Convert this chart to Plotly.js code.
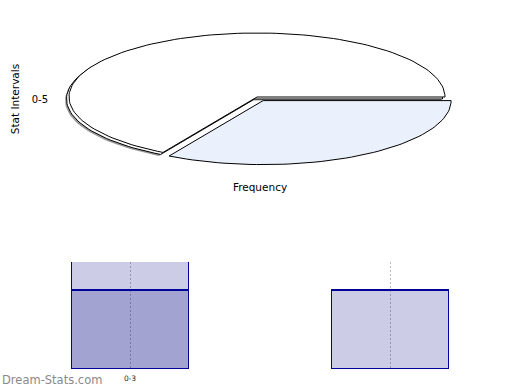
<!DOCTYPE html>
<html><head><meta charset="utf-8">
<script src="https://cdn.plot.ly/plotly-3.0.1.min.js"></script>
<style>html,body{margin:0;padding:0;background:#fff}#chart{width:520px;height:390px}</style>
</head><body><div id="chart"></div>
<script>
// ---- data ----
const pieValues = [1, 2];
const pieColors = ['#eaf0fc', '#ffffff'];
const piePull = [0.065, 0];
const statIntervals = ['0-5'];
const barPositions = [0, 1];
const barTickLabels = ['0-3', ''];
const darkValues = [1, null];
const lightValues = [1, 1];

// ---- geometry (layout only) ----
const W = 520, H = 390;
const RX = 188, RY = 64, CX = 257, CY = 97;     // ellipse radii / centre in px
const pieDomX = [50, 470], pieDomY = [10, 175]; // px
const px2x = p => (p - CX) / RX;
const px2y = p => (CY - p) / RY;
const fy = p => 1 - p / H;

function sector(a0, a1, ox, oy) {
  const xs = [ox], ys = [oy];
  const n = Math.max(2, Math.ceil((a1 - a0) / 2));
  for (let i = 0; i <= n; i++) {
    const t = (a0 + (a1 - a0) * i / n) * Math.PI / 180;
    xs.push(ox + Math.cos(t)); ys.push(oy - Math.sin(t));
  }
  xs.push(ox); ys.push(oy);
  return {x: xs, y: ys};
}

const total = pieValues.reduce((a, b) => a + b, 0);
let cum = 0;
const slices = pieValues.map((v, i) => {
  const a0 = cum / total * 360; cum += v; const a1 = cum / total * 360;
  const mid = (a0 + a1) / 2 * Math.PI / 180;
  return {a0, a1, ox: piePull[i] * Math.cos(mid), oy: -piePull[i] * Math.sin(mid), color: pieColors[i]};
});

const traces = [];
const pieBase = {type: 'scatter', mode: 'lines', fill: 'toself', xaxis: 'x2', yaxis: 'y2', hoverinfo: 'skip', showlegend: false};
// shadows for unpulled slices
slices.forEach(s => {
  if (s.ox !== 0 || s.oy !== 0) return;
  const g = sector(s.a0, s.a1, s.ox - 4 / RX, s.oy - 3.5 / RY);
  traces.push(Object.assign({}, pieBase, g, {fillcolor: 'rgba(120,120,120,0.75)', line: {width: 0, color: 'rgba(0,0,0,0)'}}));
  const w = sector(s.a0, s.a1, s.ox - 2.5 / RX, s.oy - 2 / RY);
  traces.push(Object.assign({}, pieBase, w, {fillcolor: '#ffffff', line: {width: 1, color: '#000'}}));
});
// draw unpulled first, pulled last
slices.slice().sort((a, b) => (a.ox !== 0) - (b.ox !== 0)).forEach(s => {
  const p = sector(s.a0, s.a1, s.ox, s.oy);
  traces.push(Object.assign({}, pieBase, p, {fillcolor: s.color, line: {width: 1, color: '#000'}}));
});

// category axis frame for top chart
traces.push({type: 'scatter', mode: 'markers', x: [0], y: statIntervals, xaxis: 'x3', yaxis: 'y3',
  marker: {opacity: 0}, hoverinfo: 'skip', showlegend: false});

// bars
const barLine = {color: '#000099', width: 1.5};
traces.push({type: 'bar', x: barPositions, y: darkValues, width: 0.45,
  marker: {color: 'rgba(0,0,128,0.36)', line: barLine}, hoverinfo: 'skip', showlegend: false});
traces.push({type: 'bar', x: barPositions, y: lightValues, width: 0.45,
  marker: {color: 'rgba(0,0,128,0.2)', line: barLine}, hoverinfo: 'skip', showlegend: false});

const font = {family: 'DejaVu Sans, sans-serif', color: '#000'};
const layout = {
  width: W, height: H, margin: {l: 0, r: 0, t: 0, b: 0},
  paper_bgcolor: '#fff', plot_bgcolor: 'rgba(0,0,0,0)',
  barmode: 'stack', showlegend: false, font: font,
  xaxis: {domain: [0, 1], range: [-0.5, 1.5], tickmode: 'array', tickvals: barPositions, ticktext: barTickLabels,
    showgrid: true, griddash: '2px,2px', gridcolor: '#b8b8b8', gridwidth: 1, zeroline: false, showline: false,
    ticks: '', ticklabelstandoff: 3, tickfont: {size: 7.5, color: '#222'}, anchor: 'y', fixedrange: true},
  yaxis: {domain: [fy(369), fy(262)], range: [0, 107 / 79], showticklabels: false, showgrid: false,
    zeroline: false, showline: false, ticks: '', anchor: 'x', fixedrange: true},
  xaxis2: {domain: [pieDomX[0] / W, pieDomX[1] / W], range: [px2x(pieDomX[0]), px2x(pieDomX[1])],
    visible: false, anchor: 'y2', fixedrange: true},
  yaxis2: {domain: [fy(pieDomY[1]), fy(pieDomY[0])], range: [px2y(pieDomY[1]), px2y(pieDomY[0])],
    visible: false, anchor: 'x2', fixedrange: true},
  xaxis3: {domain: [pieDomX[0] / W, pieDomX[1] / W], range: [-1, 1], anchor: 'y3',
    showticklabels: false, showgrid: false, zeroline: false, showline: false, ticks: '',
    title: {text: 'Frequency', font: {size: 10.5}, standoff: 8}, fixedrange: true},
  yaxis3: {domain: [fy(175), fy(23)], type: 'category', categoryarray: statIntervals, range: [-0.5, 0.5], anchor: 'x3',
    showgrid: false, zeroline: false, showline: false, ticks: '', tickfont: {size: 10}, ticklabelstandoff: 1,
    title: {text: 'Stat Intervals', font: {size: 10.5}}, fixedrange: true},
  annotations: [{text: 'Dream-Stats.com', xref: 'paper', yref: 'paper', x: 0, y: fy(380),
    xanchor: 'left', yanchor: 'middle', showarrow: false,
    font: {family: 'DejaVu Sans, sans-serif', size: 11.5, color: '#8a8a8a'}}]
};

Plotly.newPlot('chart', traces, layout, {displayModeBar: false, staticPlot: true});
</script></body></html>
